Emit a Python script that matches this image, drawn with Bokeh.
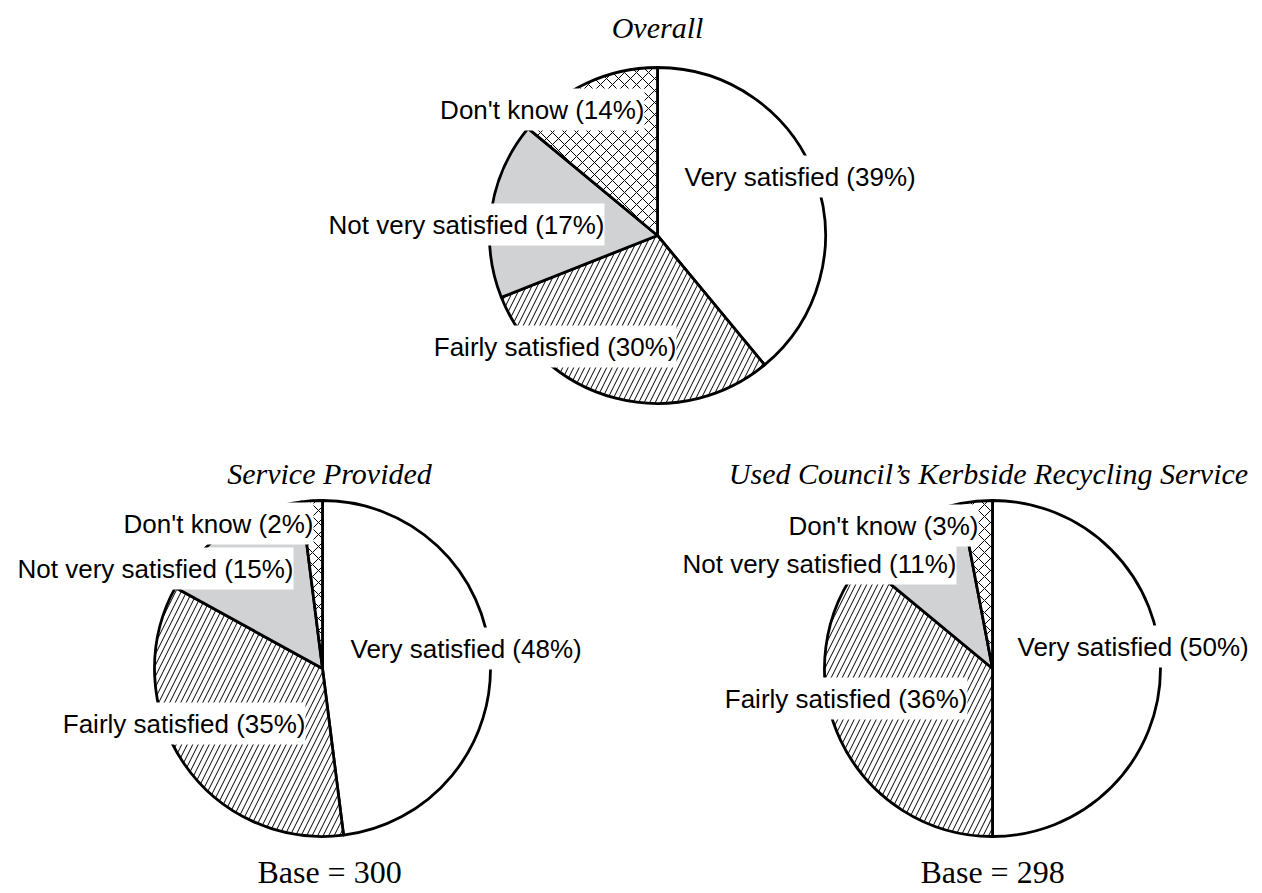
import math
from bokeh.plotting import figure
from bokeh.models import Range1d, Label, ColumnDataSource
from bokeh.embed import file_html
from bokeh.resources import INLINE

# ---------------- data ----------------
categories = ["Very satisfied", "Fairly satisfied", "Not very satisfied", "Don't know"]
overall = [39, 30, 17, 14]
service_provided = [48, 35, 15, 2]
used_kerbside = [50, 36, 11, 3]
titles = ["Overall", "Service Provided", "Used Council\u2019s Kerbside Recycling Service"]
base_sizes = [None, 300, 298]

# ---------------- styles / layout ----------------
fills = ["white", "white", "#d1d2d4", "white"]
hatches = [" ", "right_diagonal_line", " ", "diagonal_cross"]
hatch_scales = [12, 11, 12, 12]

W, H = 1262, 893
# page coordinates: x = page x, y = -page y
centers = [(657, 235), (322, 668), (992, 668)]
R = 168
# label placement relative to pie centre: (align, dx, dy_baseline)
label_layout = [
    [("left", 27, -50), ("right", 19, 120), ("right", -53, -2), ("right", -13, -117)],
    [("left", 28, -11), ("right", -17, 64), ("right", -29, -91), ("right", -9, -136)],
    [("left", 25, -13), ("right", -25, 39), ("right", -36, -96), ("right", -14, -134)],
]
title_pos = [(657, 27), (329, 473), (988, 473)]
base_pos = [None, (329, 871), (992, 871)]
label_shift = 9

p = figure(width=W, height=H, output_backend="svg", toolbar_location=None,
           x_range=Range1d(0, W), y_range=Range1d(-H, 0),
           min_border=0, border_fill_color="white", background_fill_color="white")
p.axis.visible = False
p.grid.visible = False
p.outline_line_color = None

sans = "Liberation Sans"
serif = "Liberation Serif"

for k, series in enumerate([overall, service_provided, used_kerbside]):
    cx, cy = centers[k]
    total = float(sum(series))
    cum = [0.0]
    for v in series:
        cum.append(cum[-1] + v / total)
    starts = [math.pi / 2 - 2 * math.pi * cum[i] for i in range(len(series))]
    ends = [math.pi / 2 - 2 * math.pi * cum[i + 1] for i in range(len(series))]
    src = ColumnDataSource(dict(
        x=[cx] * len(series), y=[-cy] * len(series),
        start=starts, end=ends, fill=fills, hatch=hatches, hs=hatch_scales,
    ))
    p.wedge(x="x", y="y", radius=R, start_angle="start", end_angle="end",
            direction="clock", source=src, fill_color="fill",
            hatch_pattern="hatch", hatch_scale="hs", hatch_color="black",
            hatch_weight=1.0, hatch_alpha=1.0,
            line_color="black", line_width=2.8, line_join="round")
    for i, cat in enumerate(categories):
        align, dx, dy = label_layout[k][i]
        p.add_layout(Label(x=cx + dx, y=-(cy + dy - label_shift),
                           text=f"{cat} ({series[i]}%)",
                           text_align=align, text_baseline="alphabetic",
                           text_font=sans, text_font_size="26px", text_color="black",
                           background_fill_color="white", background_fill_alpha=1.0,
                           padding=(0, 6)))
    tx, ty = title_pos[k]
    p.add_layout(Label(x=tx, y=-ty, text=titles[k], text_align="center",
                       text_baseline="alphabetic", text_font=serif,
                       text_font_style="italic", text_font_size="30px",
                       text_color="black"))
    if base_sizes[k] is not None:
        bx, by = base_pos[k]
        p.add_layout(Label(x=bx, y=-by, text=f"Base = {base_sizes[k]}",
                           text_align="center", text_baseline="alphabetic",
                           text_font=serif, text_font_size="32px", text_color="black"))

open("out.html", "w").write(file_html(p, INLINE))
